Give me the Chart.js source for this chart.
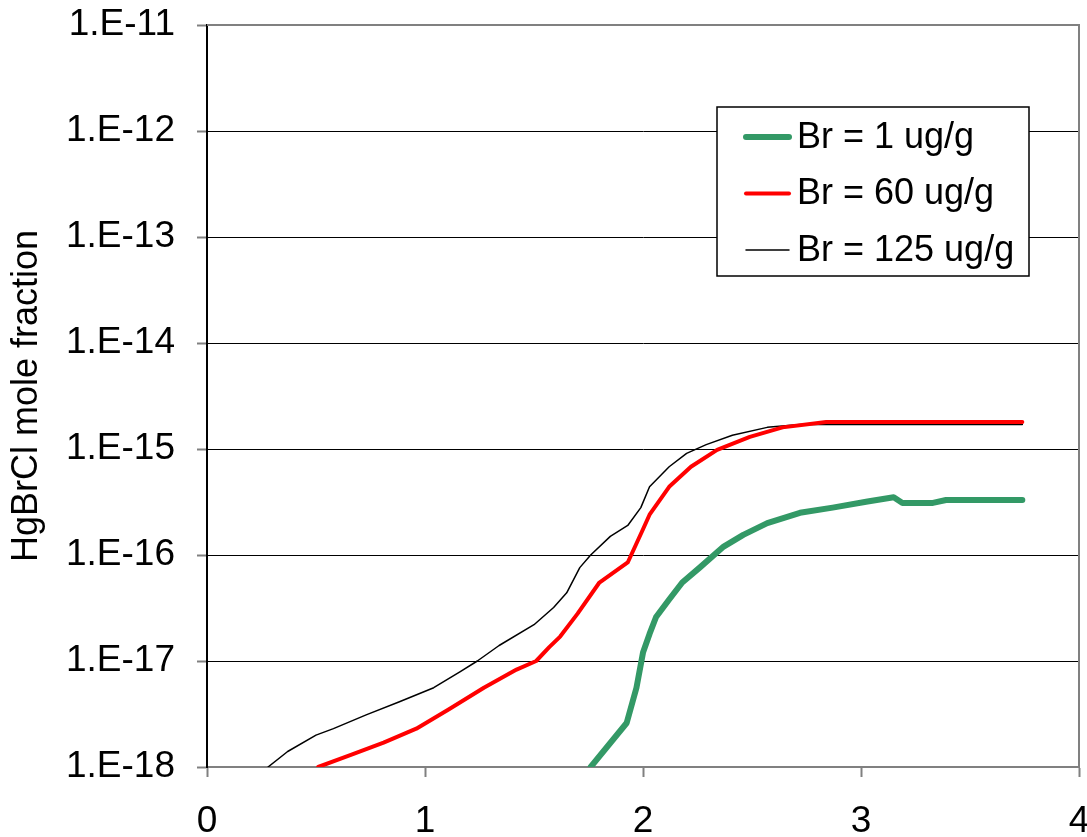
<!DOCTYPE html>
<html>
<head>
<meta charset="utf-8">
<title>HgBrCl mole fraction</title>
<script src="https://cdn.jsdelivr.net/npm/chart.js@4.4.0/dist/chart.umd.min.js"></script>
<style>
  body { margin: 0; background: #ffffff; }
  canvas { display: block; }
</style>
</head>
<body>
<canvas id="hgbrclChart" width="1087" height="837"></canvas>
<script>
// series labels
var seriesNames = ["Br = 1 ug/g", "Br = 60 ug/g", "Br = 125 ug/g"];

// Br = 1 ug/g
var br1X = [1.76, 1.925, 1.97, 2.00, 2.03, 2.06, 2.12, 2.18, 2.26, 2.37, 2.46, 2.57, 2.72, 2.87, 3.03, 3.15, 3.19, 3.33, 3.39, 3.74];
var br1Y = [1.0e-18, 2.6e-18, 5.6e-18, 1.2e-17, 1.8e-17, 2.6e-17, 3.8e-17, 5.5e-17, 7.6e-17, 1.2e-16, 1.55e-16, 2.0e-16, 2.5e-16, 2.8e-16, 3.2e-16, 3.5e-16, 3.1e-16, 3.1e-16, 3.3e-16, 3.3e-16];

// Br = 60 ug/g
var br60X = [0.51, 0.66, 0.81, 0.96, 1.11, 1.27, 1.42, 1.51, 1.57, 1.62, 1.70, 1.80, 1.93, 2.00, 2.03, 2.12, 2.22, 2.34, 2.49, 2.64, 2.84, 3.74];
var br60Y = [1.0e-18, 1.3e-18, 1.7e-18, 2.3e-18, 3.5e-18, 5.6e-18, 8.3e-18, 1.0e-17, 1.35e-17, 1.7e-17, 2.8e-17, 5.5e-17, 8.5e-17, 1.75e-16, 2.4e-16, 4.4e-16, 6.8e-16, 9.8e-16, 1.3e-15, 1.6e-15, 1.8e-15, 1.8e-15];

// Br = 125 ug/g
var br125X = [0.28, 0.37, 0.50, 0.58, 0.73, 0.88, 1.04, 1.16, 1.24, 1.34, 1.50, 1.59, 1.65, 1.71, 1.76, 1.85, 1.93, 1.99, 2.03, 2.12, 2.20, 2.29, 2.41, 2.57, 2.72, 3.74];
var br125Y = [1.0e-18, 1.4e-18, 2.0e-18, 2.3e-18, 3.1e-18, 4.1e-18, 5.6e-18, 7.9e-18, 1.0e-17, 1.4e-17, 2.2e-17, 3.2e-17, 4.4e-17, 7.6e-17, 1.0e-16, 1.5e-16, 1.9e-16, 2.8e-16, 4.4e-16, 6.8e-16, 9.1e-16, 1.1e-15, 1.35e-15, 1.6e-15, 1.7e-15, 1.7e-15];

// axis ticks
var xTicks = [0, 1, 2, 3, 4];
var yTicks = [1e-18, 1e-17, 1e-16, 1e-15, 1e-14, 1e-13, 1e-12, 1e-11];

var FONT = "'Liberation Sans', Arial, sans-serif";
var FONT_SIZE = 37;

function toPoints(xs, ys) {
    var pts = [];
    for (var i = 0; i < xs.length; i++) {
        pts.push({ x: xs[i], y: ys[i] });
    }
    return pts;
}

// gray frame on the top and right edges of the plot
var frameEdges = {
    id: "frameEdges",
    beforeDatasetsDraw: function (chart) {
        var ctx = chart.ctx, a = chart.chartArea;
        ctx.save();
        ctx.strokeStyle = "#808080";
        ctx.lineWidth = 2;
        ctx.beginPath();
        ctx.moveTo(a.left, a.top);
        ctx.lineTo(a.right, a.top);
        ctx.lineTo(a.right, a.bottom);
        ctx.stroke();
        ctx.restore();
    }
};

// boxed legend sitting inside the plot
var boxLegend = {
    id: "boxLegend",
    afterDatasetsDraw: function (chart) {
        var ctx = chart.ctx, a = chart.chartArea;
        var left = a.left + 510, top = a.top + 82, w = 312, h = 169;
        ctx.save();
        ctx.fillStyle = "#ffffff";
        ctx.fillRect(left, top, w, h);
        ctx.strokeStyle = "#000000";
        ctx.lineWidth = 1.5;
        ctx.strokeRect(left, top, w, h);
        ctx.font = "36px " + FONT;
        ctx.textBaseline = "middle";
        ctx.textAlign = "left";
        chart.data.datasets.forEach(function (ds, i) {
            var y = top + 30 + i * 56.5;
            ctx.strokeStyle = ds.borderColor;
            ctx.lineWidth = ds.borderWidth;
            ctx.lineCap = "round";
            ctx.beginPath();
            ctx.moveTo(left + 29, y);
            ctx.lineTo(left + 72, y);
            ctx.stroke();
            ctx.fillStyle = "#000000";
            ctx.fillText(ds.label, left + 80, y + 1);
        });
        ctx.restore();
    }
};

var chart = new Chart(document.getElementById("hgbrclChart").getContext("2d"), {
    type: "line",
    data: {
        datasets: [
            { label: seriesNames[0], data: toPoints(br1X, br1Y), borderColor: "#339966", borderWidth: 6 },
            { label: seriesNames[1], data: toPoints(br60X, br60Y), borderColor: "#ff0000", borderWidth: 4 },
            { label: seriesNames[2], data: toPoints(br125X, br125Y), borderColor: "#000000", borderWidth: 1.5 }
        ]
    },
    options: {
        responsive: false,
        animation: false,
        elements: {
            point: { radius: 0 },
            line: { tension: 0, fill: false, borderCapStyle: "round", borderJoinStyle: "round" }
        },
        layout: { padding: { top: 25, right: 8, left: 0, bottom: 0 } },
        plugins: {
            legend: { display: false },
            tooltip: { enabled: false }
        },
        scales: {
            x: {
                type: "linear",
                min: 0,
                max: 4,
                afterBuildTicks: function (scale) {
                    scale.ticks = xTicks.map(function (v) { return { value: v }; });
                },
                ticks: {
                    color: "#000000",
                    font: { family: FONT, size: FONT_SIZE },
                    padding: 23,
                    maxRotation: 0
                },
                grid: {
                    drawOnChartArea: false,
                    tickLength: 10,
                    tickColor: "#808080",
                    tickWidth: 2
                },
                border: { color: "#808080", width: 2 },
                afterFit: function (scale) {
                    scale.height = 70;
                    scale.paddingLeft = 0;
                    scale.paddingRight = 0;
                }
            },
            y: {
                type: "logarithmic",
                min: 1e-18,
                max: 1e-11,
                afterBuildTicks: function (scale) {
                    scale.ticks = yTicks.map(function (v) { return { value: v }; });
                },
                ticks: {
                    color: "#000000",
                    font: { family: FONT, size: FONT_SIZE },
                    padding: 22,
                    callback: function (value) {
                        return "1.E" + Math.round(Math.log10(value));
                    }
                },
                grid: {
                    color: "#000000",
                    lineWidth: 1,
                    tickLength: 10,
                    tickColor: "#808080",
                    tickWidth: 2
                },
                border: { color: "#000000", width: 2 },
                title: {
                    display: true,
                    text: "HgBrCl mole fraction",
                    color: "#000000",
                    font: { family: FONT, size: 36 },
                    padding: { top: 5, bottom: 0 }
                },
                afterFit: function (scale) {
                    scale.width = 207;
                    scale.paddingTop = 0;
                    scale.paddingBottom = 0;
                }
            }
        }
    },
    plugins: [frameEdges, boxLegend]
});
</script>
</body>
</html>
